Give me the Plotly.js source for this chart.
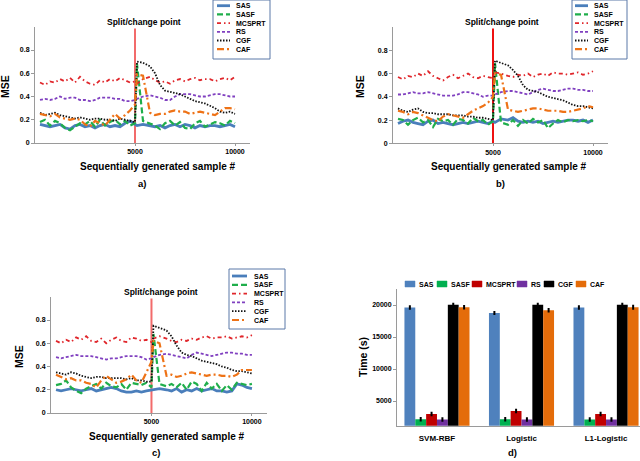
<!DOCTYPE html>
<html>
<head>
<meta charset="utf-8">
<script src="https://cdn.plot.ly/plotly-3.0.1.min.js"></script>
<style>
html, body { margin: 0; padding: 0; background: #fff; }
#chart { width: 640px; height: 461px; }
</style>
</head>
<body>
<div id="chart"></div>
<script>
// sample index of each MSE reading
const samples = [250, 500, 750, 1000, 1250, 1500, 1750, 2000, 2250, 2500,
    2750, 3000, 3250, 3500, 3750, 4000, 4250, 4500, 4750, 5000,
    5100, 5400, 5750, 6000, 6250, 6500, 6750, 7000, 7250, 7500,
    7750, 8000, 8250, 8500, 8750, 9000, 9250, 9500, 9750, 10000]
const methods = ['SAS', 'SASF', 'MCSPRT', 'RS', 'CGF', 'CAF']
const changePoint = 5000

// panel a
const sasA = [0.16,0.15,0.14,0.15,0.16,0.13,0.12,0.15,0.16,0.14, 0.15,0.13,0.15,0.16,0.14,0.15,0.14,0.17,0.19,0.16, 0.15,0.16,0.15,0.14,0.15,0.13,0.15,0.16,0.14,0.16, 0.15,0.13,0.15,0.14,0.15,0.15,0.14,0.15,0.16,0.14]
const sasfA = [0.18,0.20,0.15,0.19,0.17,0.13,0.11,0.14,0.17,0.16, 0.19,0.14,0.20,0.15,0.18,0.20,0.16,0.19,0.15,0.17, 0.68,0.19,0.17,0.15,0.12,0.17,0.19,0.15,0.18,0.13, 0.12,0.17,0.19,0.14,0.16,0.18,0.17,0.15,0.19,0.17]
const mcsprtA = [0.52,0.50,0.53,0.52,0.55,0.53,0.56,0.52,0.57,0.53, 0.51,0.50,0.54,0.52,0.55,0.53,0.56,0.54,0.52,0.53, 0.51,0.55,0.57,0.54,0.52,0.53,0.51,0.54,0.55,0.53, 0.55,0.56,0.54,0.55,0.55,0.53,0.55,0.56,0.54,0.57]
const rsA = [0.37,0.38,0.37,0.38,0.40,0.38,0.39,0.39,0.37,0.37, 0.36,0.37,0.39,0.39,0.39,0.38,0.38,0.36,0.36,0.37, 0.38,0.40,0.41,0.40,0.39,0.37,0.37,0.40,0.42,0.42, 0.42,0.41,0.40,0.40,0.41,0.42,0.42,0.41,0.40,0.40]
const cgfA = [0.26,0.24,0.25,0.26,0.24,0.23,0.22,0.21,0.22,0.21, 0.20,0.21,0.21,0.20,0.20,0.19,0.21,0.20,0.19,0.18, 0.70,0.69,0.66,0.60,0.50,0.45,0.44,0.43,0.42,0.40, 0.38,0.36,0.35,0.34,0.32,0.30,0.27,0.26,0.27,0.25]
const cafA = [0.25,0.24,0.23,0.25,0.22,0.21,0.20,0.21,0.20,0.16, 0.14,0.19,0.17,0.15,0.20,0.25,0.21,0.24,0.28,0.33, 0.59,0.58,0.26,0.24,0.25,0.25,0.27,0.28,0.27,0.27, 0.25,0.26,0.27,0.26,0.25,0.24,0.27,0.30,0.30,0.29]

// panel b
const sasB = [0.17,0.19,0.20,0.18,0.17,0.16,0.19,0.20,0.17,0.18, 0.17,0.16,0.17,0.18,0.17,0.18,0.19,0.18,0.17,0.19, 0.18,0.21,0.20,0.22,0.19,0.18,0.19,0.18,0.19,0.17, 0.18,0.19,0.18,0.19,0.20,0.20,0.19,0.20,0.18,0.20]
const sasfB = [0.21,0.20,0.16,0.20,0.22,0.18,0.20,0.14,0.21,0.19, 0.20,0.16,0.21,0.20,0.17,0.22,0.19,0.20,0.16,0.19, 0.69,0.18,0.16,0.20,0.15,0.20,0.17,0.21,0.18,0.20, 0.13,0.17,0.20,0.18,0.20,0.19,0.20,0.19,0.20,0.19]
const mcsprtB = [0.57,0.55,0.58,0.57,0.60,0.58,0.62,0.58,0.56,0.54, 0.57,0.59,0.56,0.58,0.60,0.57,0.56,0.58,0.57,0.56, 0.61,0.60,0.58,0.57,0.59,0.58,0.60,0.57,0.59,0.60, 0.58,0.61,0.60,0.60,0.59,0.60,0.61,0.59,0.60,0.62]
const rsB = [0.42,0.42,0.43,0.44,0.43,0.43,0.44,0.43,0.42,0.41, 0.41,0.41,0.42,0.44,0.44,0.43,0.42,0.40,0.41,0.41, 0.42,0.44,0.45,0.45,0.44,0.43,0.42,0.44,0.46,0.47, 0.46,0.45,0.45,0.46,0.47,0.47,0.46,0.46,0.45,0.45]
const cgfB = [0.30,0.28,0.27,0.29,0.30,0.27,0.26,0.26,0.25,0.25, 0.25,0.24,0.24,0.24,0.23,0.23,0.22,0.22,0.21,0.20, 0.71,0.69,0.67,0.63,0.58,0.50,0.46,0.45,0.44,0.42, 0.40,0.39,0.38,0.37,0.35,0.33,0.32,0.32,0.31,0.30]
const cafB = [0.28,0.27,0.25,0.27,0.26,0.24,0.22,0.20,0.19,0.23, 0.25,0.24,0.23,0.22,0.25,0.28,0.30,0.32,0.35,0.40, 0.60,0.59,0.29,0.28,0.27,0.28,0.29,0.30,0.30,0.29, 0.28,0.28,0.28,0.27,0.27,0.28,0.29,0.30,0.32,0.31]

// panel c
const sasC = [0.20,0.19,0.20,0.21,0.20,0.19,0.20,0.21,0.19,0.20, 0.21,0.22,0.21,0.19,0.18,0.18,0.19,0.18,0.19,0.20, 0.20,0.21,0.20,0.19,0.21,0.18,0.20,0.19,0.21,0.19, 0.20,0.21,0.19,0.19,0.18,0.19,0.25,0.24,0.22,0.21]
const sasfC = [0.24,0.25,0.28,0.22,0.19,0.17,0.21,0.23,0.25,0.21, 0.26,0.23,0.22,0.25,0.20,0.26,0.25,0.24,0.26,0.22, 0.68,0.25,0.23,0.25,0.22,0.26,0.20,0.27,0.25,0.19, 0.26,0.21,0.25,0.19,0.24,0.20,0.26,0.25,0.24,0.25]
const mcsprtC = [0.62,0.60,0.63,0.61,0.65,0.63,0.66,0.62,0.61,0.64, 0.60,0.63,0.65,0.62,0.61,0.65,0.64,0.62,0.63,0.61, 0.64,0.66,0.64,0.62,0.61,0.63,0.62,0.64,0.63,0.65, 0.66,0.64,0.65,0.65,0.66,0.64,0.65,0.66,0.65,0.67]
const rsC = [0.48,0.47,0.48,0.49,0.50,0.49,0.49,0.49,0.48,0.47, 0.46,0.47,0.47,0.48,0.49,0.49,0.49,0.48,0.46,0.47, 0.48,0.50,0.51,0.50,0.49,0.48,0.47,0.50,0.52,0.51, 0.50,0.49,0.50,0.51,0.52,0.52,0.51,0.51,0.50,0.50]
const cgfC = [0.35,0.34,0.33,0.35,0.34,0.32,0.31,0.30,0.31,0.31, 0.30,0.30,0.30,0.30,0.29,0.30,0.28,0.28,0.27,0.27, 0.75,0.73,0.71,0.66,0.58,0.52,0.50,0.49,0.47,0.45, 0.44,0.43,0.42,0.40,0.39,0.37,0.36,0.36,0.35,0.34]
const cafC = [0.33,0.31,0.29,0.30,0.28,0.28,0.26,0.25,0.22,0.28, 0.32,0.29,0.26,0.27,0.29,0.33,0.28,0.26,0.35,0.44, 0.62,0.60,0.32,0.33,0.31,0.32,0.34,0.35,0.34,0.33, 0.32,0.33,0.33,0.32,0.32,0.31,0.33,0.37,0.37,0.37]

// panel d: run time (s)
const classifiers = ['SVM-RBF', 'Logistic', 'L1-Logistic']
const timeSAS = [19600, 18750, 19600]
const timeSASF = [2140, 2140, 2100]
const timeMCSPRT = [2970, 3440, 2970]
const timeRS = [2100, 2100, 2100]
const timeCGF = [20050, 20050, 20050]
const timeCAF = [19650, 19170, 19650]
const errSAS = [350, 300, 350]
const errSASF = [350, 350, 350]
const errMCSPRT = [350, 350, 350]
const errRS = [350, 350, 350]
const errCGF = [300, 300, 300]
const errCAF = [350, 350, 400]
const timeTicks = [5000, 10000, 15000, 20000]

const W = 640, H = 461
const FONT = 'Arial, "Liberation Sans", sans-serif'
const px = x => x / W
const py = y => 1 - y / H

const lineStyle = {
    SAS: { color: '#4a7ebb', width: 2.8, dash: 'solid' },
    SASF: { color: '#1fae4b', width: 2.2, dash: '6px,3px' },
    MCSPRT: { color: '#e0262b', width: 1.8, dash: '4px,3px,1.5px,3px' },
    RS: { color: '#8040c0', width: 1.8, dash: '3px,2px' },
    CGF: { color: '#111111', width: 1.8, dash: '1.5px,1.5px' },
    CAF: { color: '#ee7216', width: 2.2, dash: '7px,3px,2px,3px' }
}
const barColor = ['#4f81bd', '#00b050', '#c00000', '#7030a0', '#000000', '#e46c0a']

const panels = [
    { xa: 'x', ya: 'y', box: [35, 250, 26.75, 143], red: '#f26b6b',
      data: [sasA, sasfA, mcsprtA, rsA, cgfA, cafA],
      title: [144, 22], ytitle: [5, 87], xtitle: [157, 166], tag: ['a)', 142, 183],
      legend: { x0: 213, x1: 270, y0: 0, y1: 59, row0: 5.7, step: 8.7, s0: 217, s1: 230, tx: 234 } },
    { xa: 'x2', ya: 'y2', box: [393, 608, 26.75, 143.3], red: '#ee1111',
      data: [sasB, sasfB, mcsprtB, rsB, cgfB, cafB],
      title: [502, 22], ytitle: [360, 87], xtitle: [508, 166], tag: ['b)', 500, 183],
      legend: { x0: 572, x1: 627, y0: 0, y1: 59, row0: 5.7, step: 8.7, s0: 575, s1: 588, tx: 592 } },
    { xa: 'x3', ya: 'y3', box: [51, 267, 296.75, 413], red: '#f26b6b',
      data: [sasC, sasfC, mcsprtC, rsC, cgfC, cafC],
      title: [161, 292], ytitle: [19, 357], xtitle: [166, 436], tag: ['c)', 156, 452],
      legend: { x0: 229, x1: 285, y0: 269, y1: 329, row0: 276, step: 8.8, s0: 232, s1: 247, tx: 252 } }
]

const traces = []
const shapes = []
const annotations = []
const layout = {
    width: W, height: H,
    margin: { l: 0, r: 0, t: 0, b: 0 },
    paper_bgcolor: '#fff', plot_bgcolor: 'rgba(0,0,0,0)',
    showlegend: false,
    font: { family: FONT, color: '#000' },
    barmode: 'group', bargap: 0.23, bargroupgap: 0
}

function note(text, x, y, size, angle) {
    annotations.push({
        xref: 'paper', yref: 'paper', x: px(x), y: py(y),
        xanchor: 'center', yanchor: 'middle', showarrow: false,
        text: text, textangle: angle || 0, borderpad: 0,
        font: { family: FONT, size: size, weight: 'bold', color: '#000' }
    })
}

const axisBase = {
    showline: true, linecolor: '#9a9a9a', linewidth: 1,
    showgrid: false, zeroline: false,
    ticks: 'outside', ticklen: 3, tickcolor: '#9a9a9a',
    tickfont: { family: FONT, size: 7, weight: 'bold', color: '#000' }
}

panels.forEach((p, k) => {
    const n = k === 0 ? '' : String(k + 1)
    const yTop = (p.box[3] - p.box[2]) / 116.25
    layout['xaxis' + n] = Object.assign({}, axisBase, {
        domain: [px(p.box[0]), px(p.box[1])], range: [0, 10750],
        anchor: p.ya, tickvals: [5000, 10000], ticktext: ['5000', '10000'], ticklen: 2
    })
    layout['yaxis' + n] = Object.assign({}, axisBase, {
        domain: [py(p.box[3]), py(p.box[2])], range: [0, yTop],
        anchor: p.xa, tickvals: [0, 0.2, 0.4, 0.6, 0.8], ticktext: ['0', '0.2', '0.4', '0.6', '0.8']
    })
    shapes.push({
        type: 'line', xref: p.xa, yref: p.ya, layer: 'below',
        x0: changePoint, x1: changePoint, y0: 0, y1: yTop * 0.985,
        line: { color: p.red, width: 2 }
    })
    methods.forEach((m, i) => {
        traces.push({
            x: samples, y: p.data[i], xaxis: p.xa, yaxis: p.ya,
            type: 'scatter', mode: 'lines', name: m,
            line: Object.assign({ shape: 'linear' }, lineStyle[m]),
            hoverinfo: 'skip'
        })
    })
    // boxed legend, drawn as in the figure (6 tight rows)
    const L = p.legend
    shapes.push({
        type: 'rect', xref: 'paper', yref: 'paper',
        x0: px(L.x0), x1: px(L.x1), y0: py(L.y1), y1: py(L.y0),
        line: { color: '#5a78a8', width: 1 }, fillcolor: '#fff'
    })
    methods.forEach((m, i) => {
        const yy = L.row0 + i * L.step
        shapes.push({
            type: 'line', xref: 'paper', yref: 'paper',
            x0: px(L.s0), x1: px(L.s1), y0: py(yy), y1: py(yy),
            line: lineStyle[m]
        })
        annotations.push({
            xref: 'paper', yref: 'paper', x: px(L.tx), y: py(yy),
            xanchor: 'left', yanchor: 'middle', showarrow: false, text: m,
            font: { family: FONT, size: 7, weight: 'bold', color: '#000' }
        })
    })
    note('Split/change point', p.title[0], p.title[1], 8.5)
    note('MSE', p.ytitle[0], p.ytitle[1], 10.5, -90)
    note('Sequentially generated sample #', p.xtitle[0], p.xtitle[1], 10)
    note(p.tag[0], p.tag[1], p.tag[2], 9.5)
})

// panel d bars
const times = [timeSAS, timeSASF, timeMCSPRT, timeRS, timeCGF, timeCAF]
const errs = [errSAS, errSASF, errMCSPRT, errRS, errCGF, errCAF]
methods.forEach((m, i) => {
    traces.push({
        type: 'bar', x: classifiers, y: times[i], name: m,
        xaxis: 'x4', yaxis: 'y4', hoverinfo: 'skip',
        marker: { color: barColor[i], line: { width: 0 } },
        error_y: { type: 'data', array: errs[i], color: '#000', thickness: 2, width: 0 }
    })
})
layout.xaxis4 = Object.assign({}, axisBase, {
    domain: [px(397), 1], range: [-0.473, 2.402], anchor: 'y4',
    ticks: '', ticklabelstandoff: 5,
    tickfont: { family: FONT, size: 8, weight: 'bold', color: '#000' }
})
layout.yaxis4 = Object.assign({}, axisBase, {
    domain: [py(425.7), py(289)], range: [1140, 22500], anchor: 'x4',
    tickvals: timeTicks, ticktext: timeTicks.map(String)
})
const barLegendX = [405, 437, 472, 517, 544, 576]
methods.forEach((m, i) => {
    const x0 = barLegendX[i]
    shapes.push({
        type: 'rect', xref: 'paper', yref: 'paper',
        x0: px(x0), x1: px(x0 + 10), y0: py(287), y1: py(281),
        line: { color: barColor[i], width: 0.5 }, fillcolor: barColor[i]
    })
    annotations.push({
        xref: 'paper', yref: 'paper', x: px(x0 + 12), y: py(284),
        xanchor: 'left', yanchor: 'middle', showarrow: false, text: m,
        font: { family: FONT, size: 7, weight: 'bold', color: '#000' }
    })
})
note('Time (s)', 363, 357, 10.5, -90)
note('d)', 512, 452, 9.5)

layout.shapes = shapes
layout.annotations = annotations

Plotly.newPlot('chart', traces, layout, { staticPlot: true, displayModeBar: false })
</script>
</body>
</html>
